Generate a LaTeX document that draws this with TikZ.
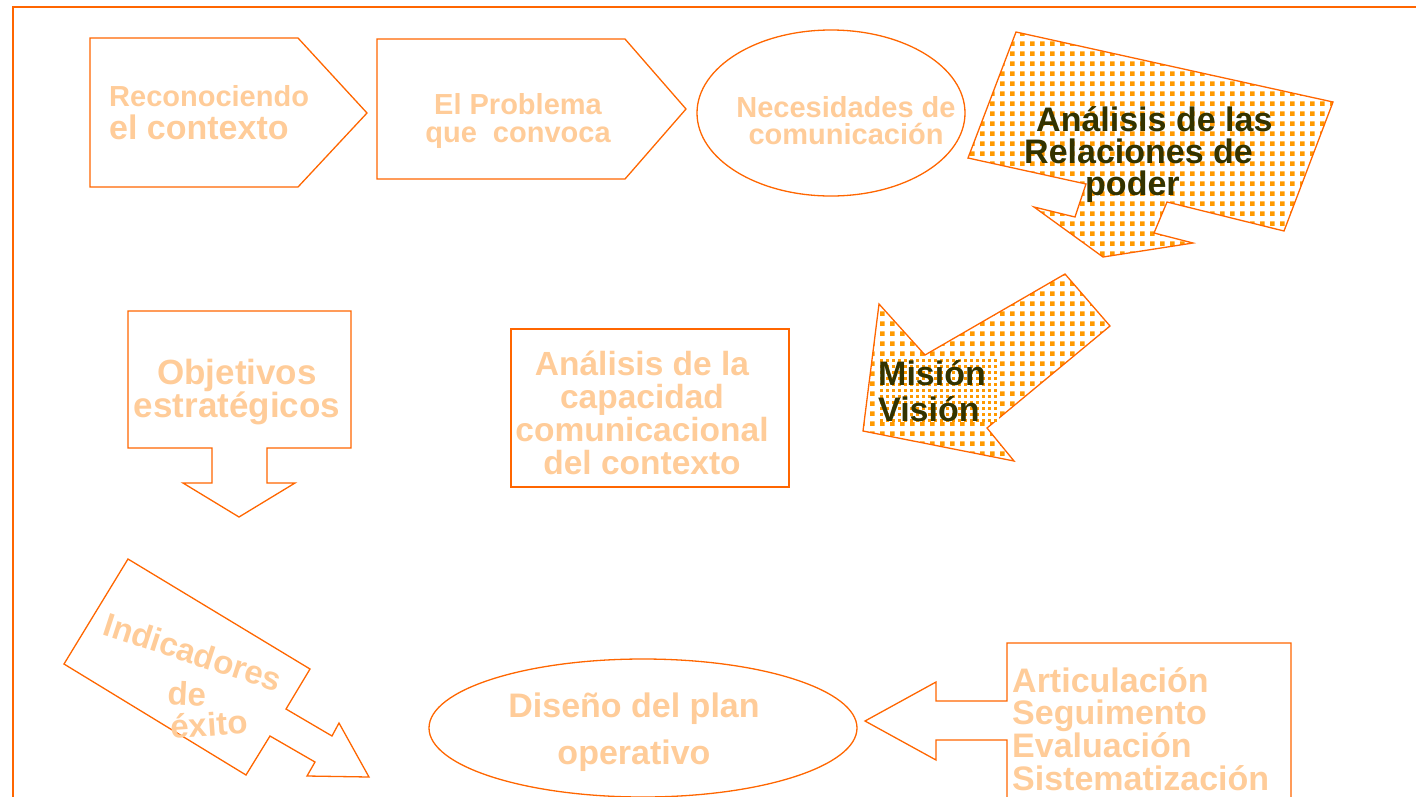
\documentclass[tikz,border=0pt]{standalone}
\usepackage{fontspec}
\setmainfont{Liberation Sans}
\usepackage{tikz}
\usetikzlibrary{shapes.geometric,patterns}
\definecolor{LineOrange}{RGB}{255,102,0}
\definecolor{TextPeach}{RGB}{255,204,153}
\definecolor{DotOrange}{RGB}{255,153,0}
\definecolor{DarkOlive}{RGB}{51,51,0}
\pgfdeclarepatternformonly{bigdots}{\pgfpointorigin}{\pgfpoint{10pt}{10pt}}{\pgfpoint{10pt}{10pt}}%
  {\pgfpathrectangle{\pgfpointorigin}{\pgfpoint{5pt}{5pt}}\pgfusepath{fill}}
\pgfdeclarepatternformonly{smalldots}{\pgfpointorigin}{\pgfpoint{5.5pt}{5.5pt}}{\pgfpoint{5.5pt}{5.5pt}}%
  {\pgfpathrectangle{\pgfpointorigin}{\pgfpoint{3pt}{3pt}}\pgfusepath{fill}}

\begin{document}
\begin{tikzpicture}
    [x=1pt, y=-1pt,
     Shape/.style={draw=LineOrange, line width=1.3pt, line join=miter},
     Dotted/.style={Shape, pattern=bigdots, pattern color=DotOrange},
     Label/.style={text=TextPeach, inner sep=0pt, align=center},
     Dark/.style={text=DarkOlive, inner sep=0pt}]
	\useasboundingbox (0,0) rectangle (1416,796);
	\draw[LineOrange, line width=2pt] (13,810) |- (1430,7);

	% top row
	\draw[Shape] (90,38) -- (298,38) -- (367,113) -- (298,187) -- (90,187) -- cycle;
	\node[Label, align=left, anchor=west] (T.Contexto) at (109,113)
		{\bfseries\fontsize{29}{35}\selectfont Reconociendo\\[7pt]
		 \bfseries\fontsize{34}{35}\selectfont el contexto};
	\draw[Shape] (377,39) -- (625,39) -- (686,109) -- (625,179) -- (377,179) -- cycle;
	\node[Label, font=\bfseries\fontsize{29}{28}\selectfont] (T.Problema) at (518,121)
		{El Problema\\que\ \ convoca};
	\node[Shape, ellipse, minimum width=268pt, minimum height=166pt] (T.Necesidades) at (831,113) {};
	\node[Label, font=\bfseries\fontsize{29}{27}\selectfont] (T.NecText) at (846,121)
		{Necesidades de\\comunicación};
	\draw[Dotted] (1016,32) -- (1333,102) -- (1284,231) -- (1167,202) -- (1154,233)
		-- (1193,243) -- (1103,257) -- (1034,207) -- (1075,217) -- (1086,184) -- (968,158) -- cycle;
	\node[Dark, align=left, anchor=north west, font=\bfseries\fontsize{34}{32}\selectfont] (T.Relaciones) at (1024,106)
		{\hspace*{12pt}Análisis de las\\Relaciones de\\\hspace*{61pt}poder};

	% middle row
	\draw[Shape] (128,311) -- (351,311) -- (351,448) -- (267,448) -- (267,483) -- (295,483)
		-- (239,517) -- (183,483) -- (212,483) -- (212,448) -- (128,448) -- cycle;
	\node[Label, font=\bfseries\fontsize{35}{33}\selectfont] (M.Objetivos) at (237,392)
		{Objetivos\\estratégicos};
	\draw[Shape] (511,329) rectangle (789,487);
	\node[Label, font=\bfseries\fontsize{33.5}{33}\selectfont] (M.Capacidad) at (642,413)
		{Análisis de la\\capacidad\\comunicacional\\del contexto};
	\draw[Dotted] (1065,274) -- (1110,326) -- (987,428) -- (1014,461) -- (863,431)
		-- (879,304) -- (925,355) -- cycle;
	\node[Dark, align=left, anchor=north west, text width=120pt, inner sep=1pt,
		preaction={fill=white}, pattern=smalldots, pattern color=DotOrange,
		font=\bfseries\fontsize{34}{36}\selectfont] (M.Mision) at (877,359)
		{Misión\\Visión};

	% bottom row
	\draw[Shape] (128,559) -- (310,669) -- (286,709) -- (332,736) -- (339,723) -- (369,777)
		-- (307,776) -- (315,762) -- (270,736) -- (246,775) -- (64,664) -- cycle;
	\node[Label, rotate=-18, font=\bfseries\fontsize{33}{33}\selectfont] (B.Indicadores) at (193,652) {Indicadores};
	\node[Label, rotate=-3, font=\bfseries\fontsize{33}{33}\selectfont] (B.De) at (187,694) {de};
	\node[Label, rotate=4, font=\bfseries\fontsize{33}{33}\selectfont] (B.Exito) at (209,724) {éxito};
	\node[Shape, ellipse, minimum width=428pt, minimum height=138pt] (B.Diseno) at (643,728) {};
	\node[Label, font=\bfseries\fontsize{34}{47}\selectfont] (B.DisText) at (634,732)
		{Diseño del plan\\operativo};
	\draw[Shape] (1291,643) -- (1007,643) -- (1007,701) -- (936,701) -- (936,682) -- (865,721)
		-- (936,760) -- (936,740) -- (1007,740) -- (1007,815) -- (1291,815) -- cycle;
	\foreach \t [count=\i from 0] in {Articulación,Seguimento,Evaluación,Sistematización}
		\node[Label, anchor=base west, font=\bfseries\fontsize{34}{33}\selectfont] (B.Lista.\i)
			at (1012,692+32.7*\i) {\t};
\end{tikzpicture}
\end{document}
